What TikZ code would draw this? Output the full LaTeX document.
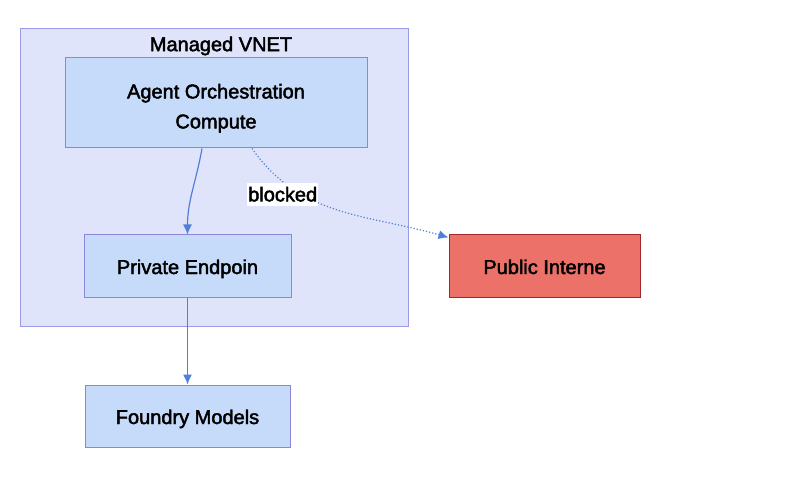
\documentclass[tikz,border=0pt]{standalone}
\usepackage{fontspec}
\setmainfont{Liberation Sans}[FakeBold=2.2]
\usetikzlibrary{arrows.meta, positioning}
\definecolor{cvnet}{HTML}{E0E4FB}
\definecolor{cvnetline}{HTML}{9C9AE6}
\definecolor{cnode}{HTML}{C6DAFA}
\definecolor{cnodeline}{HTML}{8E86D8}
\definecolor{cred}{HTML}{EC7168}
\definecolor{credline}{HTML}{A0282B}
\definecolor{cedge}{HTML}{4F7FDB}
\tikzset{
  every picture/.style={font=\fontsize{20}{30}\selectfont, line width=1pt},
  box/.style={draw=cnodeline, fill=cnode, align=center, inner sep=0pt},
  oneline/.style={box, text height=20pt, text depth=4pt, minimum height=62pt},
  redbox/.style={oneline, draw=credline, fill=cred},
  arrow/.style={-{Latex[length=10pt, width=9pt]}, draw=cedge, line width=1.2pt},
  dotarrow/.style={arrow, dotted},
  lbl/.style={fill=white, inner xsep=1pt, inner ysep=4pt},
}
\begin{document}
\begin{tikzpicture}[x=1pt, y=-1pt]
  \useasboundingbox (0,0) rectangle (800,478);
  % managed network
  \draw[draw=cvnetline, fill=cvnet] (20,29) rectangle (408,326);
  \node (vnet) at (221,46) {Managed VNET};
  % nodes
  \node[box, minimum width=302pt, minimum height=90pt] (agent) at (216,103) {\rule{0pt}{25pt}Agent Orchestration\\Compute};
  \node[oneline, minimum width=207pt] (pe) at (187.5,266) {Private Endpoin};
  \node[oneline, minimum width=205pt] (models) at (187.5,416) {Foundry Models};
  \node[redbox, minimum width=191pt] (inet) at (544.5,266) {Public Interne};
  % connectors
  \draw[arrow] ([xshift=-14pt]agent.south) to[out=-100, in=90] (pe.north);
  \draw[arrow] (pe.south) -- (models.north);
  \draw[dotarrow] ([xshift=36pt]agent.south) to[out=-55, in=164]
    node[lbl, pos=0.25, xshift=-9pt, yshift=-6pt] (blk) {blocked} ([yshift=-3pt]inet.north west);
\end{tikzpicture}
\end{document}
